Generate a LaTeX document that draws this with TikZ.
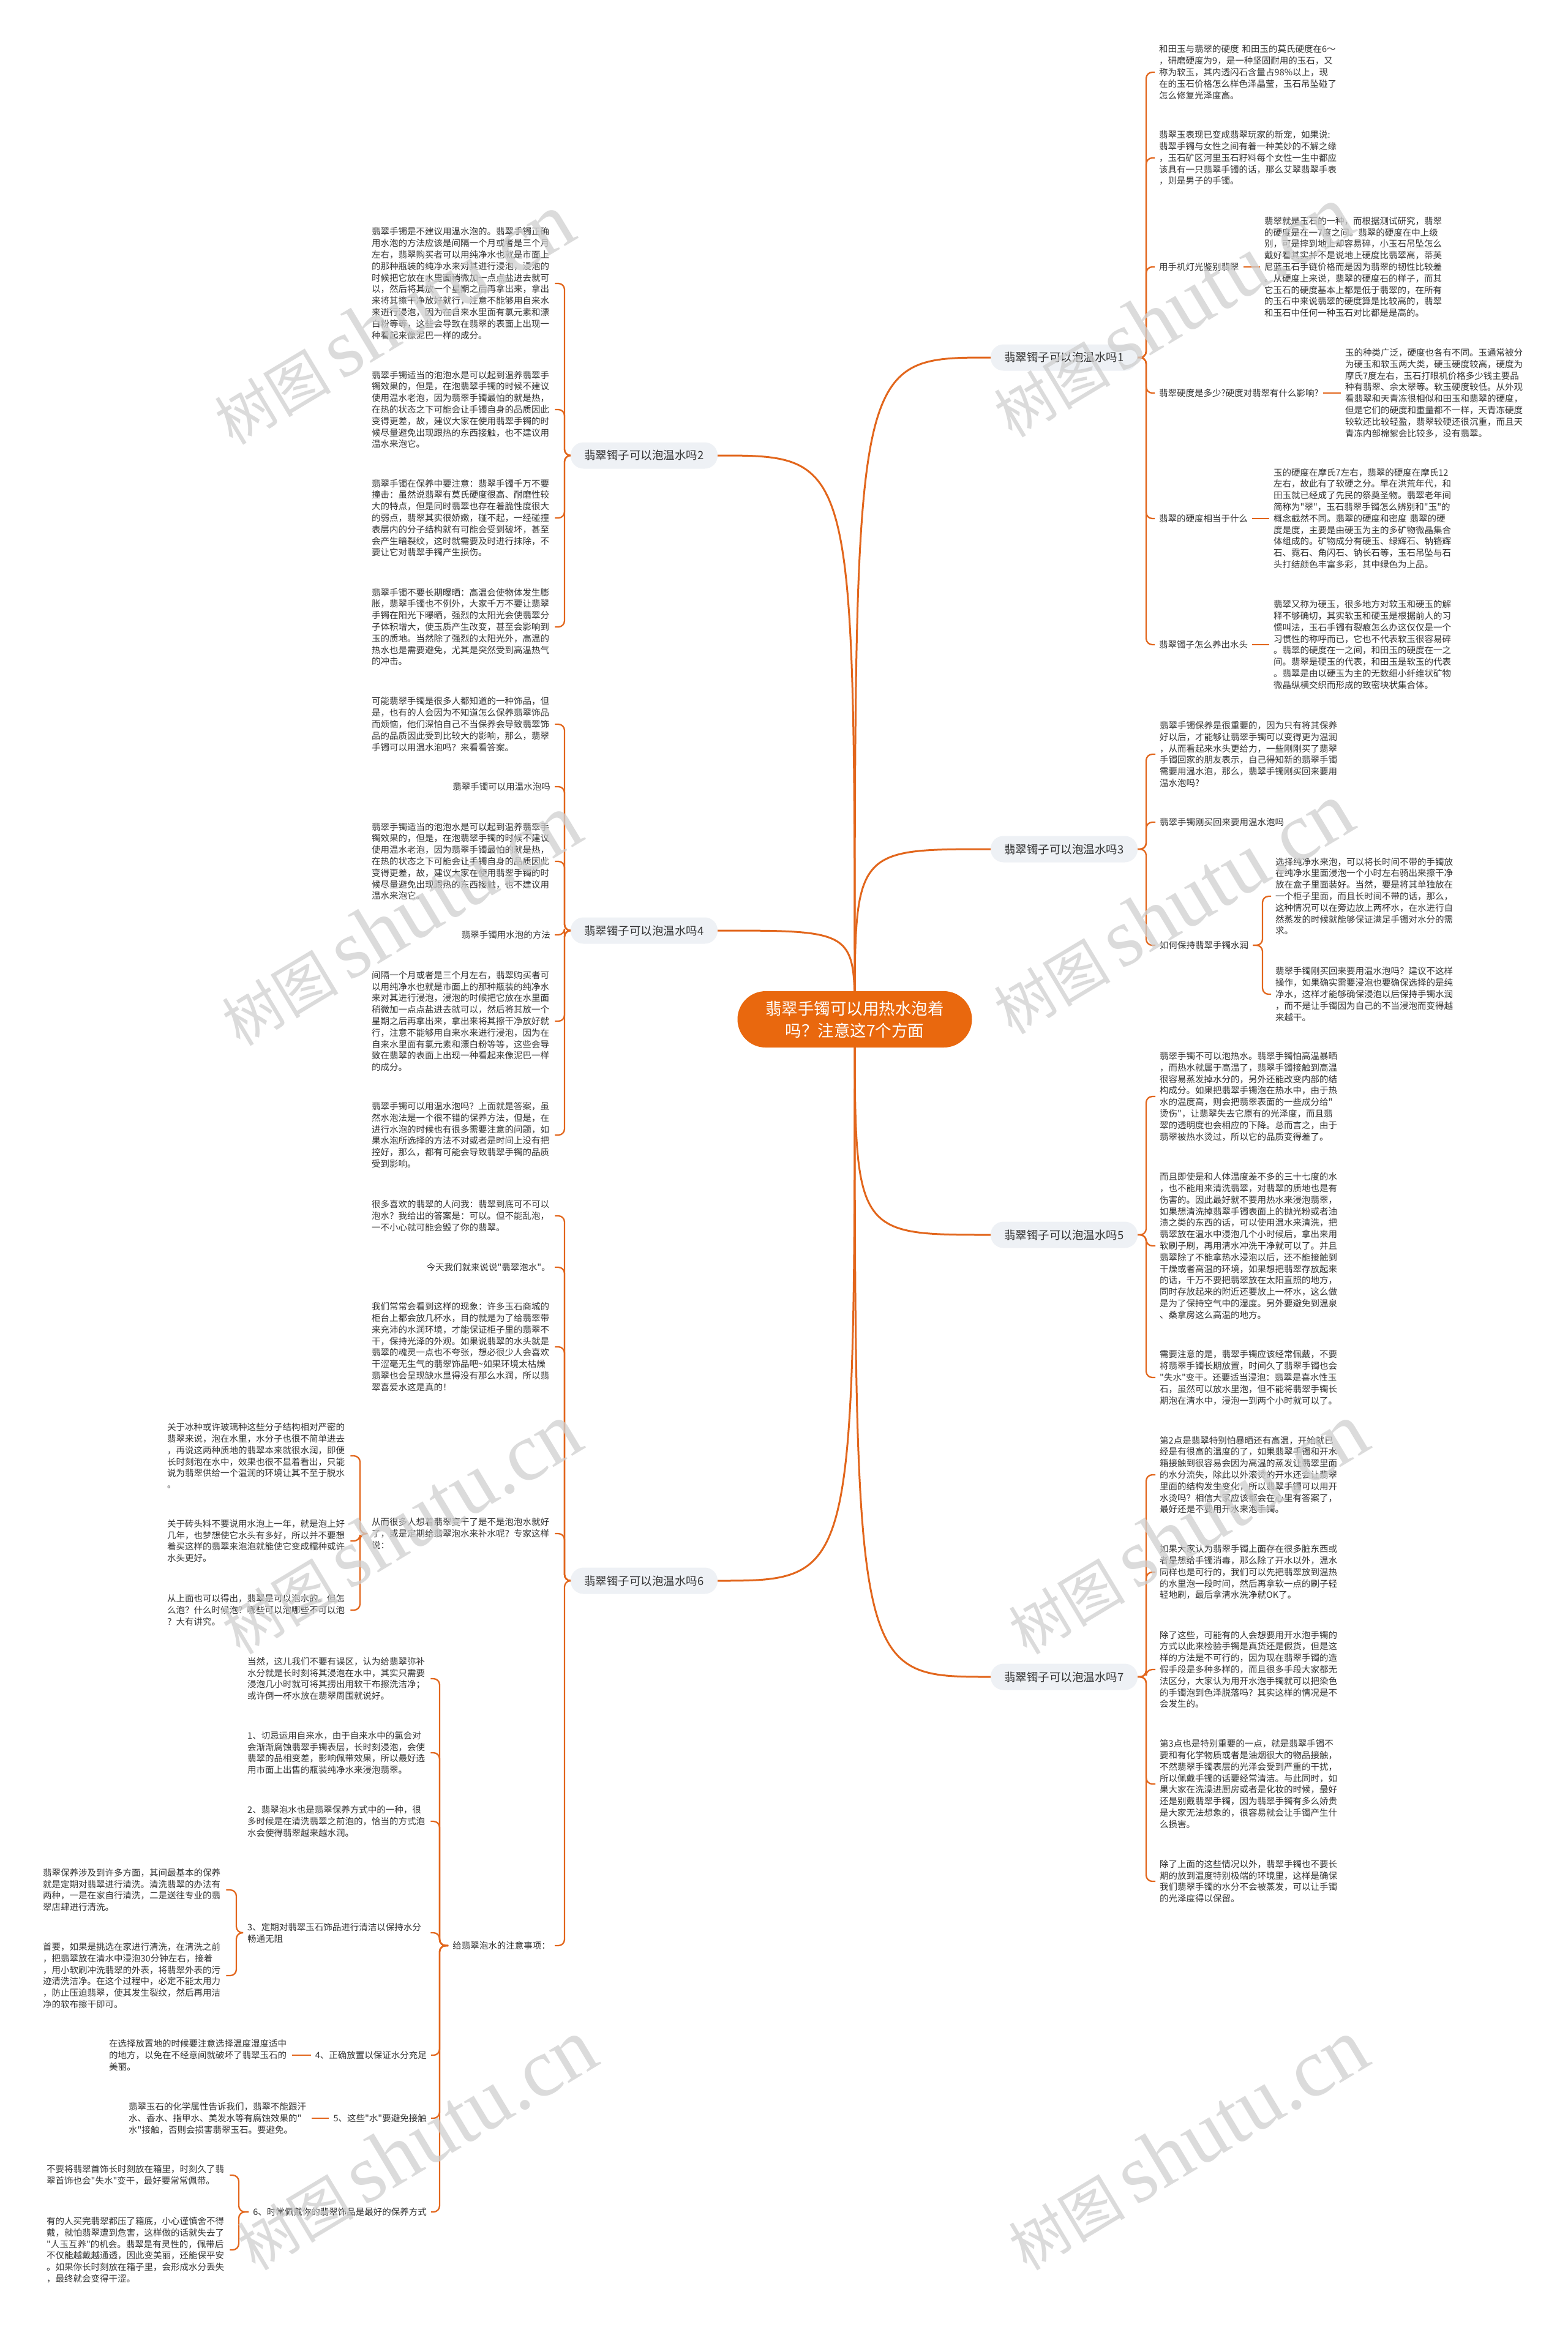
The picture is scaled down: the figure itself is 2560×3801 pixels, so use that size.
\documentclass[tikz,border=0pt]{standalone}
\usepackage{fontspec}
\setmainfont{Noto Sans CJK SC}[Ligatures=TeXOff]
\newfontfamily\wmlatin{Liberation Serif}
\usetikzlibrary{backgrounds}
\definecolor{linec}{HTML}{E2661C}
\definecolor{orc}{HTML}{E9680E}
\definecolor{pillc}{HTML}{EEF1F5}
\definecolor{txtc}{HTML}{333333}
\definecolor{wmc}{HTML}{CFCFCF}
\tikzset{
 txt/.style={font=\fontsize{14.5}{18.8}\selectfont, text=txtc, inner xsep=7pt, inner ysep=2pt, align=left, text width=292pt},
 lbl/.style={font=\fontsize{14.5}{18.8}\selectfont, text=txtc, inner xsep=7pt, inner ysep=2pt},
 pill/.style={fill=pillc, rounded corners=21pt, minimum width=240pt, minimum height=43pt, font=\fontsize{18.5}{22}\selectfont, text=txtc, inner sep=0pt},
 root/.style={fill=orc, rounded corners=46pt, minimum width=383pt, minimum height=92pt, text=white, font=\fontsize{26.5}{36}\selectfont, align=center, inner sep=0pt},
 link/.style={draw=linec, line width=2.3pt, rounded corners=10pt},
 mainlink/.style={draw=linec, line width=3pt},
 wm/.style={text=wmc, rotate=31, inner sep=0pt, text opacity=0.75}
}
\begin{document}
\begin{tikzpicture}[x=1pt,y=-1pt]
\path[use as bounding box] (0,0) rectangle (2560,3801);

% root
\node[root] (root) at (1396,1665) {翡翠手镯可以用热水泡着\\吗？注意这7个方面};

% pills
\node[pill] (p1) at (1738,584) {翡翠镯子可以泡温水吗1};
\node[pill] (p3) at (1738,1387) {翡翠镯子可以泡温水吗3};
\node[pill] (p5) at (1738,2017) {翡翠镯子可以泡温水吗5};
\node[pill] (p7) at (1738,2739) {翡翠镯子可以泡温水吗7};
\node[pill] (p2) at (1052,744) {翡翠镯子可以泡温水吗2};
\node[pill] (p4) at (1052,1520) {翡翠镯子可以泡温水吗4};
\node[pill] (p6) at (1052,2582) {翡翠镯子可以泡温水吗6};

% ---------- branch 1 ----------
\node[txt, anchor=west] (r1a) at (1886,118) {和田玉与翡翠的硬度~和田玉的莫氏硬度在6～\\，研磨硬度为9，是一种坚固耐用的玉石，又\\称为软玉，其内透闪石含量占98\%以上，现\\在的玉石价格怎么样色泽晶莹，玉石吊坠碰了\\怎么修复光泽度高。};
\node[txt, anchor=west] (r1b) at (1886,258) {翡翠玉表现已变成翡翠玩家的新宠，如果说:\\翡翠手镯与女性之间有着一种美妙的不解之缘\\，玉石矿区河里玉石籽料每个女性一生中都应\\该具有一只翡翠手镯的话，那么艾翠翡翠手表\\，则是男子的手镯。};
\node[lbl, anchor=west] (r1c) at (1886,436) {用手机灯光鉴别翡翠};
\node[txt, anchor=west] (r1c1) at (2058,436) {翡翠就是玉石的一种，而根据测试研究，翡翠\\的硬度是在一7度之间。翡翠的硬度在中上级\\别，可是摔到地上却容易碎，小玉石吊坠怎么\\戴好看其实并不是说地上硬度比翡翠高，蒂芙\\尼蓝玉石手链价格而是因为翡翠的韧性比较差\\。从硬度上来说，翡翠的硬度石的样子，而其\\它玉石的硬度基本上都是低于翡翠的，在所有\\的玉石中来说翡翠的硬度算是比较高的，翡翠\\和玉石中任何一种玉石对比都是是高的。};
\node[lbl, anchor=west] (r1d) at (1886,642) {翡翠硬度是多少?硬度对翡翠有什么影响?};
\node[txt, anchor=west] (r1d1) at (2190,642) {玉的种类广泛，硬度也各有不同。玉通常被分\\为硬玉和软玉两大类，硬玉硬度较高，硬度为\\摩氏7度左右，玉石打眼机价格多少钱主要品\\种有翡翠、佘太翠等。软玉硬度较低。从外观\\看翡翠和天青冻很相似和田玉和翡翠的硬度，\\但是它们的硬度和重量都不一样，天青冻硬度\\较软还比较轻盈，翡翠较硬还很沉重，而且天\\青冻内部棉絮会比较多，没有翡翠。};
\node[lbl, anchor=west] (r1e) at (1886,847) {翡翠的硬度相当于什么};
\node[txt, anchor=west] (r1e1) at (2073,847) {玉的硬度在摩氏7左右，翡翠的硬度在摩氏12\\左右，故此有了软硬之分。早在洪荒年代，和\\田玉就已经成了先民的祭奠圣物。翡翠老年间\\简称为"翠"，玉石翡翠手镯怎么辨别和"玉"的\\概念截然不同。翡翠的硬度和密度~翡翠的硬\\度是度，主要是由硬玉为主的多矿物微晶集合\\体组成的。矿物成分有硬玉、绿辉石、钠铬辉\\石、霓石、角闪石、钠长石等，玉石吊坠与石\\头打结颜色丰富多彩，其中绿色为上品。};
\node[lbl, anchor=west] (r1f) at (1886,1053) {翡翠镯子怎么养出水头};
\node[txt, anchor=west] (r1f1) at (2073,1053) {翡翠又称为硬玉，很多地方对软玉和硬玉的解\\释不够确切，其实软玉和硬玉是根据前人的习\\惯叫法，玉石手镯有裂痕怎么办这仅仅是一个\\习惯性的称呼而已，它也不代表软玉很容易碎\\。翡翠的硬度在一之间，和田玉的硬度在一之\\间。翡翠是硬玉的代表，和田玉是软玉的代表\\。翡翠是由以硬玉为主的无数细小纤维状矿物\\微晶纵横交织而形成的致密块状集合体。};

% ---------- branch 3 ----------
\node[txt, anchor=west] (r3a) at (1887,1232) {翡翠手镯保养是很重要的，因为只有将其保养\\好以后，才能够让翡翠手镯可以变得更为温润\\，从而看起来水头更给力，一些刚刚买了翡翠\\手镯回家的朋友表示，自己得知新的翡翠手镯\\需要用温水泡，那么，翡翠手镯刚买回来要用\\温水泡吗?};
\node[lbl, anchor=west] (r3b) at (1887,1343) {翡翠手镯刚买回来要用温水泡吗};
\node[lbl, anchor=west] (r3c) at (1887,1544) {如何保持翡翠手镯水润};
\node[txt, anchor=west] (r3c1) at (2076,1464) {选择纯净水来泡，可以将长时间不带的手镯放\\在纯净水里面浸泡一个小时左右骑出来擦干净\\放在盒子里面装好。当然，要是将其单独放在\\一个柜子里面，而且长时间不带的话，那么，\\这种情况可以在旁边放上两杯水，在水进行自\\然蒸发的时候就能够保证满足手镯对水分的需\\求。};
\node[txt, anchor=west] (r3c2) at (2076,1624) {翡翠手镯刚买回来要用温水泡吗？建议不这样\\操作，如果确实需要浸泡也要确保选择的是纯\\净水，这样才能够确保浸泡以后保持手镯水润\\，而不是让手镯因为自己的不当浸泡而变得越\\来越干。};

% ---------- branch 5 ----------
\node[txt, anchor=west] (r5a) at (1887,1791) {翡翠手镯不可以泡热水。翡翠手镯怕高温暴晒\\，而热水就属于高温了，翡翠手镯接触到高温\\很容易蒸发掉水分的，另外还能改变内部的结\\构成分。如果把翡翠手镯泡在热水中，由于热\\水的温度高，则会把翡翠表面的一些成分给"\\烫伤"，让翡翠失去它原有的光泽度，而且翡\\翠的透明度也会相应的下降。总而言之，由于\\翡翠被热水烫过，所以它的品质变得差了。};
\node[txt, anchor=west] (r5b) at (1887,2035) {而且即使是和人体温度差不多的三十七度的水\\，也不能用来清洗翡翠，对翡翠的质地也是有\\伤害的。因此最好就不要用热水来浸泡翡翠，\\如果想清洗掉翡翠手镯表面上的抛光粉或者油\\渍之类的东西的话，可以使用温水来清洗，把\\翡翠放在温水中浸泡几个小时候后，拿出来用\\软刷子刷，再用清水冲洗干净就可以了。并且\\翡翠除了不能拿热水浸泡以后，还不能接触到\\干燥或者高温的环境，如果想把翡翠存放起来\\的话，千万不要把翡翠放在太阳直照的地方，\\同时存放起来的附近还要放上一杯水，这么做\\是为了保持空气中的湿度。另外要避免到温泉\\、桑拿房这么高温的地方。};
\node[txt, anchor=west] (r5c) at (1887,2250) {需要注意的是，翡翠手镯应该经常佩戴，不要\\将翡翠手镯长期放置，时间久了翡翠手镯也会\\"失水"变干。还要适当浸泡：翡翠是喜水性玉\\石，虽然可以放水里泡，但不能将翡翠手镯长\\期泡在清水中，浸泡一到两个小时就可以了。};

% ---------- branch 7 ----------
\node[txt, anchor=west] (r7a) at (1887,2409) {第2点是翡翠特别怕暴晒还有高温，开始就已\\经是有很高的温度的了，如果翡翠手镯和开水\\箱接触到很容易会因为高温的蒸发让翡翠里面\\的水分流失，除此以外滚烫的开水还会让翡翠\\里面的结构发生变化，所以翡翠手镯可以用开\\水烫吗？相信大家应该都会在心里有答案了，\\最好还是不要用开水来泡手镯。};
\node[txt, anchor=west] (r7b) at (1887,2568) {如果大家认为翡翠手镯上面存在很多脏东西或\\者是想给手镯消毒，那么除了开水以外，温水\\同样也是可行的，我们可以先把翡翠放到温热\\的水里泡一段时间，然后再拿软一点的刷子轻\\轻地刷，最后拿清水洗净就OK了。};
\node[txt, anchor=west] (r7c) at (1887,2727) {除了这些，可能有的人会想要用开水泡手镯的\\方式以此来检验手镯是真货还是假货，但是这\\样的方法是不可行的，因为现在翡翠手镯的造\\假手段是多种多样的，而且很多手段大家都无\\法区分，大家认为用开水泡手镯就可以把染色\\的手镯泡到色泽脱落吗？其实这样的情况是不\\会发生的。};
\node[txt, anchor=west] (r7d) at (1887,2914) {第3点也是特别重要的一点，就是翡翠手镯不\\要和有化学物质或者是油烟很大的物品接触，\\不然翡翠手镯表层的光泽会受到严重的干扰，\\所以佩戴手镯的话要经常清洁。与此同时，如\\果大家在洗澡进厨房或者是化妆的时候，最好\\还是别戴翡翠手镯，因为翡翠手镯有多么娇贵\\是大家无法想象的，很容易就会让手镯产生什\\么损害。};
\node[txt, anchor=west] (r7e) at (1887,3073) {除了上面的这些情况以外，翡翠手镯也不要长\\期的放到温度特别极端的环境里，这样是确保\\我们翡翠手镯的水分不会被蒸发，可以让手镯\\的光泽度得以保留。};

% ---------- branch 2 ----------
\node[txt, anchor=west] (l2a) at (600,463) {翡翠手镯是不建议用温水泡的。翡翠手镯正确\\用水泡的方法应该是间隔一个月或者是三个月\\左右，翡翠购买者可以用纯净水也就是市面上\\的那种瓶装的纯净水来对其进行浸泡，浸泡的\\时候把它放在水里面稍微加一点点盐进去就可\\以，然后将其放一个星期之后再拿出来，拿出\\来将其擦干净放好就行，注意不能够用自来水\\来进行浸泡，因为在自来水里面有氯元素和漂\\白粉等等，这些会导致在翡翠的表面上出现一\\种看起来像泥巴一样的成分。};
\node[txt, anchor=west] (l2b) at (600,669) {翡翠手镯适当的泡泡水是可以起到温养翡翠手\\镯效果的，但是，在泡翡翠手镯的时候不建议\\使用温水老泡，因为翡翠手镯最怕的就是热，\\在热的状态之下可能会让手镯自身的品质因此\\变得更差，故，建议大家在使用翡翠手镯的时\\候尽量避免出现跟热的东西接触，也不建议用\\温水来泡它。};
\node[txt, anchor=west] (l2c) at (600,846) {翡翠手镯在保养中要注意：翡翠手镯千万不要\\撞击：虽然说翡翠有莫氏硬度很高、耐磨性较\\大的特点，但是同时翡翠也存在着脆性度很大\\的弱点，翡翠其实很娇嫩，碰不起，一经碰撞\\表层内的分子结构就有可能会受到破坏，甚至\\会产生暗裂纹，这时就需要及时进行抹除，不\\要让它对翡翠手镯产生损伤。};
\node[txt, anchor=west] (l2d) at (600,1024) {翡翠手镯不要长期曝晒：高温会使物体发生膨\\胀，翡翠手镯也不例外，大家千万不要让翡翠\\手镯在阳光下曝晒，强烈的太阳光会使翡翠分\\子体积增大，使玉质产生改变，甚至会影响到\\玉的质地。当然除了强烈的太阳光外，高温的\\热水也是需要避免，尤其是突然受到高温热气\\的冲击。};

% ---------- branch 4 ----------
\node[txt, anchor=west] (l4a) at (600,1183) {可能翡翠手镯是很多人都知道的一种饰品，但\\是，也有的人会因为不知道怎么保养翡翠饰品\\而烦恼，他们深怕自己不当保养会导致翡翠饰\\品的品质因此受到比较大的影响，那么，翡翠\\手镯可以用温水泡吗？来看看答案。};
\node[lbl, anchor=east] (l4b) at (906,1285) {翡翠手镯可以用温水泡吗};
\node[txt, anchor=west] (l4c) at (600,1407) {翡翠手镯适当的泡泡水是可以起到温养翡翠手\\镯效果的，但是，在泡翡翠手镯的时候不建议\\使用温水老泡，因为翡翠手镯最怕的就是热，\\在热的状态之下可能会让手镯自身的品质因此\\变得更差，故，建议大家在使用翡翠手镯的时\\候尽量避免出现跟热的东西接触，也不建议用\\温水来泡它。};
\node[lbl, anchor=east] (l4d) at (906,1527) {翡翠手镯用水泡的方法};
\node[txt, anchor=west] (l4e) at (600,1668) {间隔一个月或者是三个月左右，翡翠购买者可\\以用纯净水也就是市面上的那种瓶装的纯净水\\来对其进行浸泡，浸泡的时候把它放在水里面\\稍微加一点点盐进去就可以，然后将其放一个\\星期之后再拿出来，拿出来将其擦干净放好就\\行，注意不能够用自来水来进行浸泡，因为在\\自来水里面有氯元素和漂白粉等等，这些会导\\致在翡翠的表面上出现一种看起来像泥巴一样\\的成分。};
\node[txt, anchor=west] (l4f) at (600,1854) {翡翠手镯可以用温水泡吗？上面就是答案，虽\\然水泡法是一个很不错的保养方法，但是，在\\进行水泡的时候也有很多需要注意的问题，如\\果水泡所选择的方法不对或者是时间上没有把\\控好，那么，都有可能会导致翡翠手镯的品质\\受到影响。};

% ---------- branch 6 ----------
\node[txt, anchor=west] (l6a) at (600,1986) {很多喜欢的翡翠的人问我：翡翠到底可不可以\\泡水？我给出的答案是：可以。但不能乱泡，\\一不小心就可能会毁了你的翡翠。};
\node[lbl, anchor=east] (l6b) at (906,2070) {今天我们就来说说"翡翠泡水"。};
\node[txt, anchor=west] (l6c) at (600,2200) {我们常常会看到这样的现象：许多玉石商城的\\柜台上都会放几杯水，目的就是为了给翡翠带\\来充沛的水润环境，才能保证柜子里的翡翠不\\干，保持光泽的外观。如果说翡翠的水头就是\\翡翠的魂灵一点也不夸张，想必很少人会喜欢\\干涩毫无生气的翡翠饰品吧\textasciitilde{}如果环境太枯燥\\翡翠也会呈现缺水显得没有那么水润，所以翡\\翠喜爱水这是真的！};
\node[txt, anchor=west] (l6d) at (600,2505) {从而很多人想着翡翠变干了是不是泡泡水就好\\了，或是定期给翡翠泡水来补水呢？专家这样\\说：};
\node[txt, anchor=west] (l6d1) at (266,2378) {关于冰种或许玻璃种这些分子结构相对严密的\\翡翠来说，泡在水里，水分子也很不简单进去\\，再说这两种质地的翡翠本来就很水润，即便\\长时刻泡在水中，效果也很不显着看出，只能\\说为翡翠供给一个温润的环境让其不至于脱水\\。};
\node[txt, anchor=west] (l6d2) at (266,2517) {关于砖头料不要说用水泡上一年，就是泡上好\\几年，也梦想使它水头有多好，所以并不要想\\着买这样的翡翠来泡泡就能使它变成糯种或许\\水头更好。};
\node[txt, anchor=west] (l6d3) at (266,2630) {从上面也可以得出，翡翠是可以泡水的。但怎\\么泡？什么时候泡？哪些可以泡哪些不可以泡\\？大有讲究。};
\node[lbl, anchor=east] (l6e) at (906,3178) {给翡翠泡水的注意事项：};
\node[txt, anchor=west] (l6e1) at (397,2742) {当然，这儿我们不要有误区，认为给翡翠弥补\\水分就是长时刻将其浸泡在水中，其实只需要\\浸泡几小时就可将其捞出用软干布擦洗洁净；\\或许倒一杯水放在翡翠周围就说好。};
\node[txt, anchor=west] (l6e2) at (397,2863) {1、切忌运用自来水，由于自来水中的氯会对\\会渐渐腐蚀翡翠手镯表层，长时刻浸泡，会使\\翡翠的品相变差，影响佩带效果，所以最好选\\用市面上出售的瓶装纯净水来浸泡翡翠。};
\node[txt, anchor=west] (l6e3) at (397,2975) {2、翡翠泡水也是翡翠保养方式中的一种，很\\多时候是在清洗翡翠之前泡的，恰当的方式泡\\水会使得翡翠越来越水润。};
\node[txt, anchor=west] (l6e4) at (397,3157) {3、定期对翡翠玉石饰品进行清洁以保持水分\\畅通无阻};
\node[txt, anchor=west] (l6e4a) at (63,3087) {翡翠保养涉及到许多方面，其间最基本的保养\\就是定期对翡翠进行清洗。清洗翡翠的办法有\\两种，一是在家自行清洗，二是送往专业的翡\\翠店肆进行清洗。};
\node[txt, anchor=west] (l6e4b) at (63,3227) {首要，如果是挑选在家进行清洗，在清洗之前\\，把翡翠放在清水中浸泡30分钟左右，接着\\，用小软刷冲洗翡翠的外表，将翡翠外表的污\\迹清洗洁净。在这个过程中，必定不能太用力\\，防止压迫翡翠，使其发生裂纹，然后再用洁\\净的软布擦干即可。};
\node[lbl, anchor=east] (l6e5) at (704,3357) {4、正确放置以保证水分充足};
\node[txt, anchor=west] (l6e5a) at (171,3357) {在选择放置地的时候要注意选择温度湿度适中\\的地方，以免在不经意间就破坏了翡翠玉石的\\美丽。};
\node[lbl, anchor=east] (l6e6) at (704,3460) {5、这些"水"要避免接触};
\node[txt, anchor=west] (l6e6a) at (203,3460) {翡翠玉石的化学属性告诉我们，翡翠不能跟汗\\水、香水、指甲水、美发水等有腐蚀效果的"\\水"接触，否则会损害翡翠玉石。要避免。};
\node[lbl, anchor=east] (l6e7) at (704,3613) {6、时常佩戴你的翡翠饰品是最好的保养方式};
\node[txt, anchor=west] (l6e7a) at (69,3553) {不要将翡翠首饰长时刻放在箱里，时刻久了翡\\翠首饰也会"失水"变干，最好要常常佩带。};
\node[txt, anchor=west] (l6e7b) at (69,3675) {有的人买完翡翠都压了箱底，小心谨慎舍不得\\戴，就怕翡翠遭到危害，这样做的话就失去了\\"人玉互养"的机会。翡翠是有灵性的，佩带后\\不仅能越戴越通透，因此变美丽，还能保平安\\。如果你长时刻放在箱子里，会形成水分丢失\\，最终就会变得干涩。};

\begin{scope}[on background layer]
\fill[white] (0,0) rectangle (2560,3801);
% main links
\draw[mainlink] (root.center) .. controls (1396,584) .. (p1.west);
\draw[mainlink] (root.center) .. controls (1396,1387) .. (p3.west);
\draw[mainlink] (root.center) .. controls (1396,2017) .. (p5.west);
\draw[mainlink] (root.center) .. controls (1396,2739) .. (p7.west);
\draw[mainlink] (root.center) .. controls (1396,744) .. (p2.east);
\draw[mainlink] (root.center) .. controls (1396,1520) .. (p4.east);
\draw[mainlink] (root.center) .. controls (1396,2582) .. (p6.east);
% branch 1
\foreach \c in {r1a,r1b,r1c,r1d,r1e,r1f}
  \draw[link] (p1.east) -- (1872,584) |- (\c.west);
\draw[link] (r1c.east) -- (r1c1.west);
\draw[link] (r1d.east) -- (r1d1.west);
\draw[link] (r1e.east) -- (r1e1.west);
\draw[link] (r1f.east) -- (r1f1.west);
% branch 3
\foreach \c in {r3a,r3b,r3c}
  \draw[link] (p3.east) -- (1872,1387) |- (\c.west);
\foreach \c in {r3c1,r3c2}
  \draw[link] (r3c.east) -- (2062,1544) |- (\c.west);
% branch 5
\foreach \c in {r5a,r5b,r5c}
  \draw[link] (p5.east) -- (1872,2017) |- (\c.west);
% branch 7
\foreach \c in {r7a,r7b,r7c,r7d,r7e}
  \draw[link] (p7.east) -- (1872,2739) |- (\c.west);
% branch 2
\foreach \c in {l2a,l2b,l2c,l2d}
  \draw[link] (p2.west) -- (922,744) |- (\c.east);
% branch 4
\foreach \c in {l4a,l4b,l4c,l4d,l4e,l4f}
  \draw[link] (p4.west) -- (922,1520) |- (\c.east);
% branch 6
\foreach \c in {l6a,l6b,l6c,l6d,l6e}
  \draw[link] (p6.west) -- (922,2582) |- (\c.east);
\foreach \c in {l6d1,l6d2,l6d3}
  \draw[link] (l6d.west) -- (588,2505) |- (\c.east);
\foreach \c in {l6e1,l6e2,l6e3,l6e4,l6e5,l6e6,l6e7}
  \draw[link] (l6e.west) -- (718,3178) |- (\c.east);
\foreach \c in {l6e4a,l6e4b}
  \draw[link] (l6e4.west) -- (386,3157) |- (\c.east);
\draw[link] (l6e5.west) -- (l6e5a.east);
\draw[link] (l6e6.west) -- (l6e6a.east);
\foreach \c in {l6e7a,l6e7b}
  \draw[link] (l6e7.west) -- (390,3613) |- (\c.east);
\end{scope}

% watermarks
\foreach \wx/\wy [count=\i] in {642/521,1915/509,654/1503,1915/1484,654/2497,1939/2497,679/3503,1939/3503}
  \node[wm] (wm\i) at (\wx,\wy) {{\fontsize{95}{95}\selectfont 树图}\hspace{18pt}{\wmlatin\fontsize{135}{135}\selectfont shutu.cn}};
\end{tikzpicture}
\end{document}
